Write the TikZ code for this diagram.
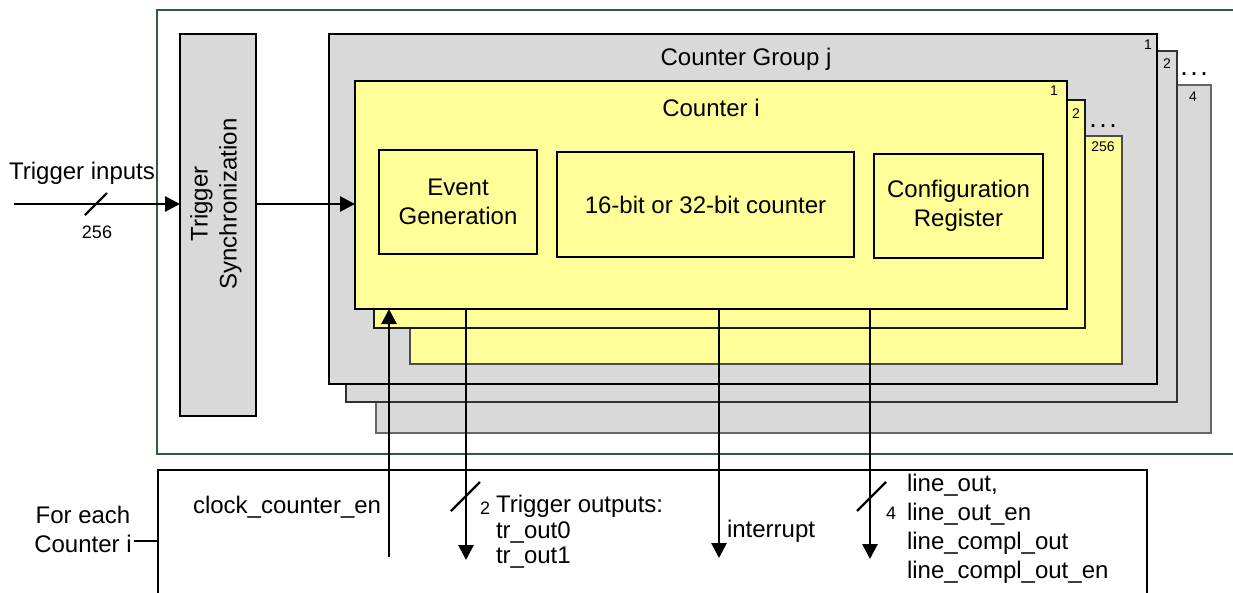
\documentclass[tikz,border=0pt]{standalone}
\usepackage{fontspec}
\setmainfont{Liberation Sans}
\usetikzlibrary{arrows.meta}
\definecolor{grayfill}{RGB}{217,217,217}
\definecolor{yellowfill}{RGB}{255,255,153}
\definecolor{framegreen}{RGB}{45,95,60}
\tikzset{
  box/.style={draw, inner sep=0pt, outer sep=0pt, anchor=north west},
  rectbox/.style 2 args={minimum width=#1pt, minimum height=#2pt},
  txt/.style={font=\fontsize{24}{29}\selectfont, inner sep=0pt, outer sep=0pt},
  sig/.style={font=\fontsize{24}{29}\selectfont, inner sep=0pt, outer sep=0pt, align=left, anchor=west},
  small/.style={font=\fontsize{14}{16}\selectfont, inner sep=0pt, outer sep=0pt},
  num/.style={font=\fontsize{18}{20}\selectfont, inner sep=0pt, outer sep=0pt},
  dots/.style={font=\fontsize{27}{27}\selectfont, inner sep=0pt, outer sep=0pt},
  arr/.style={line width=2.8pt, -{Triangle[length=15pt,width=15pt]}},
  slash/.style={line width=2.2pt},
}
\begin{document}
\begin{tikzpicture}[x=1pt,y=-1pt]
\useasboundingbox (0,0) rectangle (1233,592);
% green frame
\draw[framegreen, line width=1.6pt] (1240,10) -- (157,10) -- (157,454) -- (1240,454);
% trigger synchronization
\node[box, fill=grayfill, line width=2.2pt, rectbox={76}{382}] (ts) at (180,34) {};
\node[txt, rotate=90, align=center] (tstext) at (216,204) {Trigger\\Synchronization};
% counter groups
\node[box, fill=grayfill, draw=black!60, line width=1.6pt, rectbox={835}{348}] (cg3) at (376,85) {};
\node[box, fill=grayfill, draw=black!80, line width=1.6pt, rectbox={831}{351}] (cg2) at (346,51) {};
\node[box, fill=grayfill, line width=2.2pt, rectbox={828}{350}] (cg1) at (329,34) {};
\node[small] (cg1n) at (1148,45) {1};
\node[small] (cg2n) at (1167,64) {2};
\node[dots] (cgdots) at (1194,74) {.\kern2.5pt.\kern2.5pt.};
\node[small] (cg3n) at (1193,97) {4};
\node[txt] (cglabel) at (746,59) {Counter Group j};
% counters
\node[box, fill=yellowfill, draw=black!70, line width=1.6pt, rectbox={712}{228}] (ci3) at (410,136) {};
\node[box, fill=yellowfill, draw=black!90, line width=1.6pt, rectbox={711}{228}] (ci2) at (374,100) {};
\node[box, fill=yellowfill, line width=2.2pt, rectbox={712}{228}] (ci1) at (355,81) {};
\node[small] (ci1n) at (1054,91) {1};
\node[small] (ci2n) at (1076,114) {2};
\node[dots] (cidots) at (1103,126) {.\kern2.5pt.\kern2.5pt.};
\node[small] (ci3n) at (1103,147) {256};
\node[txt] (cilabel) at (711,108) {Counter i};
% inner blocks
\node[box, fill=yellowfill, line width=2.2pt, rectbox={158}{104}] (ev) at (379,150) {};
\node[txt, align=center] (evtext) at (ev.center) {Event\\Generation};
\node[box, fill=yellowfill, line width=2.2pt, rectbox={297}{105}] (cnt) at (557,152) {};
\node[txt] (cnttext) at (cnt.center) {16-bit or 32-bit counter};
\node[box, fill=yellowfill, line width=2.2pt, rectbox={169}{104}] (cfg) at (874,154) {};
\node[txt, align=center] (cfgtext) at (cfg.center) {Configuration\\Register};
% trigger inputs
\node[txt] (tinlabel) at (82,173) {Trigger inputs};
\coordinate (tin) at (14,204);
\draw[arr] (tin) -- (ts.west |- tin);
\draw[slash] (85,215) -- (107,193);
\node[num] (tinnum) at (97,232) {256};
\draw[arr] (ts.east |- tin) -- (ci1.west |- tin);
% bottom box
\draw[line width=1.6pt] (158,470) -- (1147,470) -- (1147,600);
\draw[line width=2.6pt] (158,600) -- (158,470) -- (190,470);
\draw[line width=2.2pt] (134,541) -- (158,541);
\node[txt, align=center] (foreach) at (83,529) {For each\\Counter i};
% signals
\coordinate (clk) at (389,557);
\draw[arr] (clk) -- (clk |- ci1.south);
\node[sig] (clktext) at (193,507) {clock\_counter\_en};
\coordinate (tro) at (466,560);
\draw[arr] (tro |- ci1.south) -- (tro);
\draw[slash] (451,511) -- (480,482);
\node[num] (tronum) at (485,508) {2};
\node[sig, font=\fontsize{24}{25.5}\selectfont] (trotext) at (496,532) {Trigger outputs:\\tr\_out0\\tr\_out1};
\coordinate (irq) at (719,558);
\draw[arr] (irq |- ci1.south) -- (irq);
\node[sig] (irqtext) at (727,531) {interrupt};
\coordinate (lo) at (870,559);
\draw[arr] (lo |- ci1.south) -- (lo);
\draw[slash] (857,511) -- (886,482);
\node[num] (lonum) at (891,513) {4};
\node[sig] (lotext) at (907,529) {line\_out,\\line\_out\_en\\line\_compl\_out\\line\_compl\_out\_en};
\end{tikzpicture}
\end{document}
